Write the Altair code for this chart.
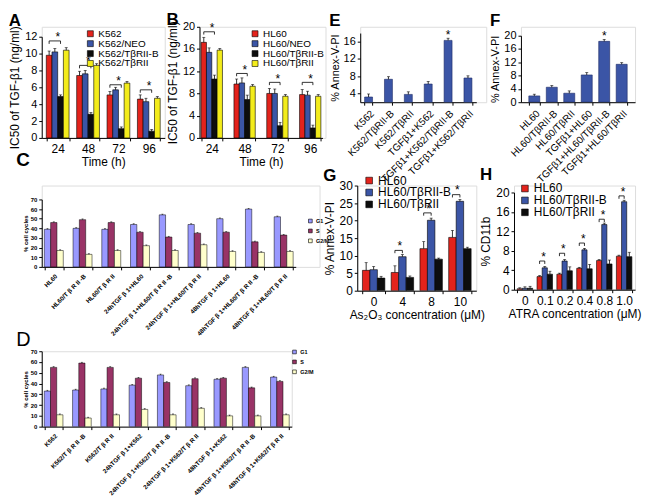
import altair as alt
import pandas as pd

FONT = "Liberation Sans"
RED = "#e3231c"
BLUE = "#3b55a6"
BLACK = "#0d0d0d"
YELLOW = "#f3ec1b"
G1C = "#9999ff"
SC = "#993366"
G2C = "#ffffcc"

# ---------------- Panel A ----------------
a_times = ["24", "48", "72", "96"]
a_series = ["K562", "K562/NEO", "K562/TβRII-B", "K562/TβRII"]
a_k562 = [9.8, 7.4, 5.1, 4.6]
a_neo = [10.2, 7.6, 5.7, 4.3]
a_trb = [4.9, 2.8, 1.1, 0.8]
a_tr = [10.4, 8.6, 6.5, 4.7]
a_k562_err = [0.5, 0.5, 0.4, 0.5]
a_neo_err = [0.4, 0.4, 0.3, 0.4]
a_trb_err = [0.2, 0.2, 0.2, 0.2]
a_tr_err = [0.3, 0.2, 0.2, 0.2]
a_bracket = [11.5, 8.6, 6.3, 5.7]

# ---------------- Panel B ----------------
b_times = ["24", "48", "72", "96"]
b_series = ["HL60", "HL60/NEO", "HL60/TβRII-B", "HL60/TβRII"]
b_hl60 = [17.2, 9.7, 8.0, 7.8]
b_neo = [15.4, 9.9, 8.0, 7.7]
b_trb = [10.6, 6.9, 2.2, 1.8]
b_tr = [15.8, 9.3, 7.5, 7.5]
b_hl60_err = [0.9, 0.9, 0.9, 0.9]
b_neo_err = [0.8, 0.9, 0.8, 0.7]
b_trb_err = [0.7, 0.8, 0.6, 0.5]
b_tr_err = [0.3, 0.3, 0.3, 0.3]
b_bracket = [19.1, 11.6, 10.0, 10.0]

# ---------------- Panels C / D ----------------
phases = ["G1", "S", "G2/M"]
c_groups = ["HL60", "HL60/T β R II -B", "HL60/T β R II", "24hTGF β 1+HL60",
            "24hTGF β 1+HL60/T β R II -B", "24hTGF β 1+HL60/T β R II", "48hTGF β 1+HL60",
            "48hTGF β 1+HL60/T β R II -B", "48hTGF β 1+HL60/T β R II"]
c_g1 = [39, 40, 39, 44, 54, 44, 50, 60, 52]
c_s = [46, 49, 46, 36, 31, 35, 36, 26, 33]
c_g2 = [17, 13, 17, 22, 17, 23, 16, 15, 16]
c_err = [0.8] * 9

d_groups = ["K562", "K562/T β R II -B", "K562/T β R II", "24hTGF β 1+K562",
            "24hTGF β 1+K562/T β R II -B", "24hTGF β 1+K562/T β R II", "48hTGF β 1+K562",
            "48hTGF β 1+K562/T β R II -B", "48hTGF β 1+K562/T β R II"]
d_g1 = [33, 34, 35, 38.5, 48, 38, 44, 55, 46]
d_s = [55, 59, 55, 45, 41, 44.5, 45, 36, 42]
d_g2 = [11, 8, 11, 16, 11, 17, 10, 10, 11]
d_err = [0.8] * 9

# ---------------- Panels E / F ----------------
e_groups = ["K562", "K562/TβRII-B", "K562/TβRII", "TGFβ1+K562",
            "TGFβ1+K562/TβRII-B", "TGFβ1+K562/TβRII"]
e_vals = [3.2, 7.3, 3.8, 6.2, 16.3, 7.6]
e_err = [0.7, 0.6, 0.6, 0.6, 0.5, 0.5]
e_star = [None, None, None, None, 17.4, None]

f_groups = ["HL60", "HL60/TβRII-B", "HL60/TβRII", "TGFβ1+HL60",
            "TGFβ1+HL60/TβRII-B", "TGFβ1+HL60/TβRII"]
f_vals = [1.9, 4.5, 2.7, 8.2, 18.3, 11.4]
f_err = [0.5, 0.5, 0.7, 0.7, 0.6, 0.5]
f_star = [None, None, None, None, 19.5, None]

# ---------------- Panel G ----------------
g_conc = ["0", "4", "8", "10"]
g_series = ["HL60", "HL60/TβRII-B", "HL60/TβRII"]
g_hl60 = [5.8, 5.2, 12.0, 15.2]
g_trb = [6.0, 9.7, 20.1, 25.5]
g_tr = [3.6, 3.8, 9.0, 12.0]
g_hl60_err = [2.2, 1.9, 2.0, 2.0]
g_trb_err = [0.9, 0.6, 0.6, 0.5]
g_tr_err = [0.5, 0.4, 0.3, 0.4]
g_bracket = [None, 11.5, 22.2, 27.4]

# ---------------- Panel H ----------------
h_conc = ["0", "0.1", "0.2", "0.4", "0.8", "1.0"]
h_series = ["HL60", "HL60/TβRII-B", "HL60/TβRII"]
h_hl60 = [0.2, 2.7, 3.2, 4.4, 6.0, 6.9]
h_trb = [0.3, 4.5, 5.9, 8.2, 13.4, 18.1]
h_tr = [0.3, 3.2, 3.9, 4.3, 5.3, 6.8]
h_hl60_err = [0.2, 0.2, 0.2, 0.2, 0.2, 0.2]
h_trb_err = [0.3, 0.3, 0.3, 0.3, 0.3, 0.3]
h_tr_err = [0.4, 0.6, 0.8, 0.9, 0.8, 0.9]
h_bracket = [None, 5.9, 7.5, 9.6, 14.5, 19.3]


def series_df(cats, series, vals, errs):
    rows = []
    for s, vs, es in zip(series, vals, errs):
        for c, v, e in zip(cats, vs, es):
            rows.append({"cat": c, "series": s, "value": v, "top": v + e})
    return pd.DataFrame(rows)


def caps_df(df):
    out = df[["cat", "series", "top"]].copy()
    out["value"] = out["top"]
    return out[["cat", "series", "value"]]


def bracket_df(cats, levels, left, right, depth):
    rows = []
    for c, lv in zip(cats, levels):
        if lv is None:
            continue
        rows += [
            {"cat": c, "series": left, "value": lv - depth, "o": 0},
            {"cat": c, "series": left, "value": lv, "o": 1},
            {"cat": c, "series": right, "value": lv, "o": 2},
            {"cat": c, "series": right, "value": lv - depth, "o": 3},
        ]
    return pd.DataFrame(rows)


def star_df(cats, levels, s):
    rows = [{"cat": c, "series": s, "value": lv} for c, lv in zip(cats, levels) if lv is not None]
    return pd.DataFrame(rows)


def make_panel(df, cats, series, colors, width, plot_w, height, ydom, yrng, yticks,
               ytitle, xtitle, pin, pout, letter, tdx=0, toff=2, legend=None,
               fs=11, xfs=11, tfs=11, xangle=0, bold=False, bar_stroke="black",
               bar_sw=0.6, err_w=0.8, cap=3, brackets=None, stars=None, star_dx=0,
               ytp=3, xtp=3, ylp=2, xlp=3, letter_fs=17, letter_w="bold"):
    fw = "bold" if bold else "normal"
    xaxis_kw = dict(labelAngle=xangle, tickBand="extent", tickSize=3,
                    domainColor="black", tickColor="black", labelColor="black",
                    titleColor="black", labelFont=FONT, titleFont=FONT,
                    labelFontSize=xfs, titleFontSize=tfs, labelFontWeight=fw,
                    titleFontWeight="normal", labelPadding=xlp, titlePadding=xtp,
                    labelLimit=400, labelOverlap=False)
    if xangle != 0:
        xaxis_kw["labelAlign"] = "right"
        xaxis_kw["labelBaseline"] = "top"
    xaxis = alt.Axis(title=xtitle, **xaxis_kw) if xtitle else alt.Axis(title=None, **xaxis_kw)
    x = alt.X("cat:N", sort=cats,
              scale=alt.Scale(range=[0, plot_w], paddingInner=pin, paddingOuter=pout),
              axis=xaxis)
    xo = alt.XOffset("series:N", sort=series, scale=alt.Scale(domain=series))
    y = alt.Y("value:Q",
              scale=alt.Scale(domain=ydom, range=yrng, nice=False, zero=False),
              axis=alt.Axis(values=yticks, title=ytitle, grid=False, domainColor="black",
                            tickColor="black", tickSize=3, labelColor="black",
                            titleColor="black", labelFont=FONT, titleFont=FONT,
                            labelFontSize=fs, titleFontSize=tfs, labelFontWeight=fw,
                            titleFontWeight=fw, labelPadding=ylp, titlePadding=ytp,
                            labelOverlap=False, labelFlush=False, tickCount=len(yticks)))
    if legend is not None:
        leg = alt.Legend(orient="none", legendX=legend["x"], legendY=legend["y"],
                         title=None, symbolType="square", symbolSize=legend["ss"],
                         symbolStrokeColor="black", symbolStrokeWidth=0.6,
                         labelFont=FONT, labelFontSize=legend["fs"], labelFontWeight=fw,
                         labelColor="black", rowPadding=legend["rp"], labelOffset=3,
                         padding=0, symbolOpacity=1)
        color = alt.Color("series:N", sort=series,
                          scale=alt.Scale(domain=series, range=colors), legend=leg)
    else:
        color = alt.Color("series:N", sort=series,
                          scale=alt.Scale(domain=series, range=colors), legend=None)
    bars = alt.Chart(df).mark_bar(stroke=bar_stroke, strokeWidth=bar_sw, clip=True,
                                  opacity=1).encode(x=x, xOffset=xo, y=y, color=color)
    err = alt.Chart(df).mark_rule(color="black", strokeWidth=err_w).encode(
        x=x, xOffset=xo, y=y, y2="top:Q")
    caps = alt.Chart(caps_df(df)).mark_tick(color="black", thickness=err_w, size=cap).encode(
        x=x, xOffset=xo, y=y)
    layers = [bars, err, caps]
    if brackets is not None and len(brackets) > 0:
        layers.append(alt.Chart(brackets).mark_line(color="black", strokeWidth=0.8).encode(
            x=x, xOffset=xo, y=y, order="o:Q", detail="cat:N"))
    if stars is not None and len(stars) > 0:
        layers.append(alt.Chart(stars).mark_text(text="*", fontSize=12, font=FONT,
                                                 baseline="bottom", dx=star_dx, dy=6,
                                                 color="black").encode(
            x=x, xOffset=xo, y=y))
    return alt.layer(*layers).properties(
        width=width, height=height,
        title=alt.TitleParams(letter, anchor="start", frame="bounds", fontSize=letter_fs,
                              fontWeight=letter_w, font=FONT, dx=tdx, offset=toff,
                              color="black"))


# ---------- build panels ----------
dfA = series_df(a_times, a_series, [a_k562, a_neo, a_trb, a_tr],
                [a_k562_err, a_neo_err, a_trb_err, a_tr_err])
pA = make_panel(dfA, a_times, a_series, [RED, BLUE, BLACK, YELLOW], 124, 124, 112,
                [0, 12], [112, 10], [0, 2, 4, 6, 8, 10, 12],
                "IC50 of TGF-β1 (ng/ml)", "Time (h)", 0.25, 0.15, "A", toff=-4,
                legend={"x": 44, "y": 2, "ss": 36, "fs": 10, "rp": -1},
                fs=11, xfs=12, tfs=12, xtp=2,
                brackets=bracket_df(a_times, a_bracket, "K562", "K562/TβRII-B", 0.35),
                stars=star_df(a_times, [v + 0.35 for v in a_bracket], "K562/NEO"), star_dx=3)

dfB = series_df(b_times, b_series, [b_hl60, b_neo, b_trb, b_tr],
                [b_hl60_err, b_neo_err, b_trb_err, b_tr_err])
pB = make_panel(dfB, b_times, b_series, [RED, BLUE, BLACK, YELLOW], 127, 124, 112,
                [0, 20], [112, 0], [0, 4, 8, 12, 16, 20],
                "IC50 of TGF-β1 (ng/ml)", "Time (h)", 0.35, 0.05, "B", toff=-8,
                legend={"x": 51, "y": 2, "ss": 36, "fs": 10, "rp": -1},
                fs=11, xfs=12, tfs=12, xtp=2,
                brackets=bracket_df(b_times, b_bracket, "HL60", "HL60/TβRII-B", 0.5),
                stars=star_df(b_times, [v + 0.5 for v in b_bracket], "HL60/NEO"), star_dx=3)

dfE = series_df(e_groups, ["E"], [e_vals], [e_err])
pE = make_panel(dfE, e_groups, ["E"], [BLUE], 127, 117, 76, [2, 18], [76, 6.3],
                [4, 8, 12, 16], "% Annex-V-PI", None, 0.6, 0.22, "E", toff=-3,
                fs=11, xfs=10, tfs=11, xangle=-45, bar_stroke="#1c2a66", bar_sw=0.6,
                stars=star_df(e_groups, e_star, "E"))

dfF = series_df(f_groups, ["F"], [f_vals], [f_err])
pF = make_panel(dfF, f_groups, ["F"], [BLUE], 115, 115, 76, [0, 20], [76, 9],
                [0, 4, 8, 12, 16, 20], "% Annex-V-PI", None, 0.37, 0.45, "F", toff=-3,
                fs=11, xfs=10, tfs=11, xangle=-45, bar_stroke="#1c2a66", bar_sw=0.6,
                stars=star_df(f_groups, f_star, "F"))

dfC = series_df(c_groups, phases, [c_g1, c_s, c_g2], [c_err, c_err, c_err])
pC = make_panel(dfC, c_groups, phases, [G1C, SC, G2C], 280, 256, 82, [0, 70], [82, 14],
                [0, 10, 20, 30, 40, 50, 60, 70], "% cell cycles", None, 0.34, 0.09, "C",
                tdx=-6, toff=16, legend={"x": 268, "y": 33, "ss": 14, "fs": 5.5, "rp": 2},
                fs=6, xfs=6.3, tfs=6, xangle=-45, bold=True, bar_sw=0.5, err_w=0.6, cap=2,
                ytp=2, ylp=2, letter_fs=19)

dfG = series_df(g_conc, g_series, [g_hl60, g_trb, g_tr], [g_hl60_err, g_trb_err, g_tr_err])
pG = make_panel(dfG, g_conc, g_series, [RED, BLUE, BLACK], 120, 120, 106, [0, 30], [106, 0],
                [0, 5, 10, 15, 20, 25, 30], "% Annex-V-PI", "As₂O₃ concentration (μM)",
                0.22, 0.18, "G", toff=-10,
                legend={"x": 6, "y": -11, "ss": 45, "fs": 12, "rp": -2},
                fs=12, xfs=12, tfs=12, xtp=2,
                brackets=bracket_df(g_conc, g_bracket, "HL60", "HL60/TβRII-B", 0.8),
                stars=star_df(g_conc, [None if v is None else v + 0.9 for v in g_bracket], "HL60"),
                star_dx=5)

dfH = series_df(h_conc, h_series, [h_hl60, h_trb, h_tr], [h_hl60_err, h_trb_err, h_tr_err])
pH = make_panel(dfH, h_conc, h_series, [RED, BLUE, BLACK], 122, 122, 105, [0, 20], [105, 7],
                [0, 4, 8, 12, 16, 20], "% CD11b", "ATRA concentration (μM)",
                0.22, 0.16, "H", toff=-1,
                legend={"x": 5, "y": -3, "ss": 45, "fs": 12, "rp": -2},
                fs=12, xfs=12, tfs=12, xtp=2,
                brackets=bracket_df(h_conc, h_bracket, "HL60", "HL60/TβRII-B", 0.6),
                stars=star_df(h_conc, [None if v is None else v + 0.6 for v in h_bracket], "HL60"),
                star_dx=4)

dfD = series_df(d_groups, phases, [d_g1, d_s, d_g2], [d_err, d_err, d_err])
pD = make_panel(dfD, d_groups, phases, [G1C, SC, G2C], 252, 252, 76, [0, 70], [76, 0],
                [0, 10, 20, 30, 40, 50, 60, 70], "% cell cycles", None, 0.34, 0.09, "D",
                tdx=-6, toff=-2, legend={"x": 252, "y": -2, "ss": 14, "fs": 5.5, "rp": 2},
                fs=6, xfs=6.3, tfs=6, xangle=-45, bold=True, bar_sw=0.5, err_w=0.6, cap=2,
                ytp=2, ylp=2, letter_fs=20, letter_w="normal")

res = dict(color="independent", x="independent", y="independent", xOffset="independent")

row1 = alt.hconcat(pA, pB, pE, pF, spacing=35, bounds="flush").resolve_scale(**res)
row2 = alt.hconcat(pC, pG, pH, spacing=38, bounds="flush").resolve_scale(**res)
top = alt.vconcat(row1, row2, spacing=-36).resolve_scale(**res)
chart = alt.vconcat(top, pD, spacing=-8).resolve_scale(**res).properties(
    padding=0, background="white"
).configure_view(strokeOpacity=0).configure(font=FONT).configure_axis(labelOverlap=False)

chart.save("out.html", embed_options={"renderer": "svg", "actions": False})
